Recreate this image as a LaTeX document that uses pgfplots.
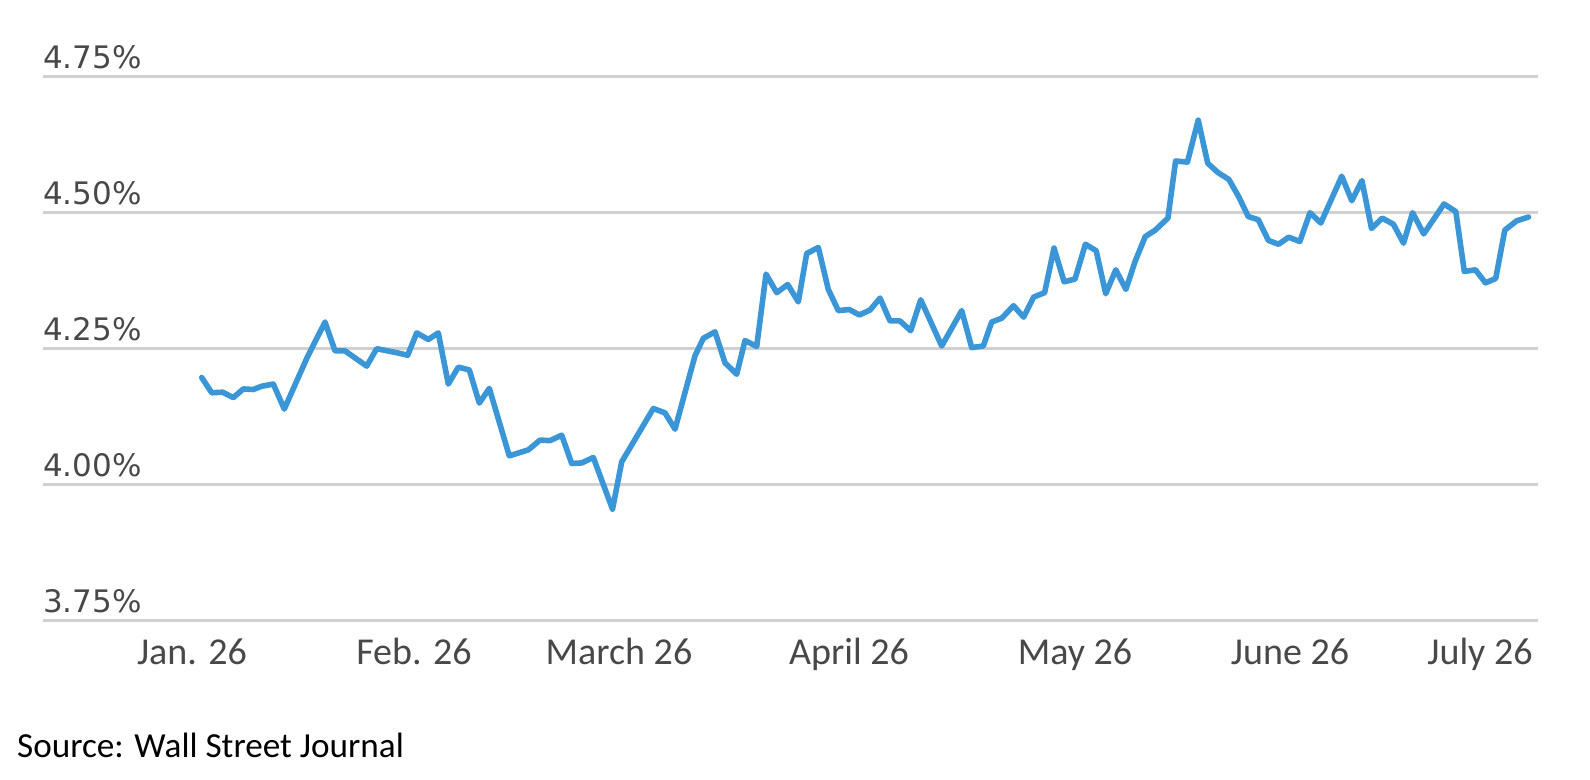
\documentclass[border=0pt]{standalone}
\usepackage{fontspec}
\usepackage{pgfplots}
\pgfplotsset{compat=1.18}
\setmainfont{Carlito}
\newfontfamily\ylabfont{DejaVu Sans}
\newfontfamily\xlabfont{Carlito}
\definecolor{lineblue}{RGB}{59,150,215}
\definecolor{gridgray}{RGB}{208,208,208}
\definecolor{labgray}{RGB}{72,72,72}
\begin{document}
\begin{tikzpicture}
\useasboundingbox (0,0) rectangle (795pt,390pt);
\begin{axis}[
  at={(21.35pt,79.65pt)}, anchor=south west,
  scale only axis,
  width=747.5pt, height=272pt,
  xmin=42.7, xmax=1537.7,
  ymin=3.75, ymax=4.75,
  axis line style={draw=none},
  major tick length=0pt,
  ymajorgrids,
  grid style={line width=1.2pt, color=gridgray},
  ytick={3.75,4.00,4.25,4.50,4.75},
  yticklabels={3.75\%,4.00\%,4.25\%,4.50\%,4.75\%},
  yticklabel style={anchor=base west, inner sep=0pt, yshift=4pt, font=\ylabfont\fontsize{15.5}{18}\selectfont, text=labgray},
  xtick={192,414,619,849,1075,1290,1480},
  xticklabels={Jan. 26,Feb. 26,March 26,April 26,May 26,June 26,July 26},
  xticklabel style={anchor=base, inner sep=0pt, yshift=-22pt, font=\xlabfont\fontsize{19}{22}\selectfont, text=labgray},
  clip=false,
]
\addplot[lineblue, line width=2.8pt, line join=round, line cap=round] coordinates {
(201.7,4.197) (211.7,4.169) (222.7,4.170) (233.3,4.160) (243.3,4.176)
(253.3,4.175) (261.7,4.181) (273.3,4.185) (284.3,4.139) (306.7,4.232)
(325.0,4.299) (335.0,4.246) (345.0,4.246) (366.7,4.218) (376.7,4.250)
(398.3,4.242) (407.7,4.238) (416.7,4.279) (428.3,4.267) (438.3,4.279)
(448.3,4.185) (458.3,4.216) (469.3,4.211) (479.3,4.150) (489.3,4.177)
(509.3,4.053) (528.3,4.064) (540.0,4.082) (550.0,4.081) (561.7,4.091)
(571.7,4.039) (581.7,4.040) (593.3,4.050) (612.5,3.955) (621.7,4.042)
(653.3,4.140) (665.0,4.132) (675.0,4.102) (695.0,4.237) (703.3,4.269)
(715.0,4.281) (725.0,4.224) (736.7,4.203) (745.0,4.265) (756.7,4.254)
(766.0,4.387) (776.7,4.353) (787.7,4.368) (798.3,4.336) (806.7,4.425)
(818.3,4.436) (828.3,4.359) (838.3,4.320) (849.3,4.322) (859.3,4.312)
(870.0,4.321) (880.0,4.343) (890.0,4.301) (900.0,4.301) (910.7,4.283)
(920.7,4.340) (941.7,4.255) (961.7,4.320) (971.7,4.252) (983.3,4.255)
(991.7,4.299) (1001.7,4.306) (1013.5,4.329) (1023.6,4.308) (1033.7,4.345)
(1044.6,4.353) (1054.0,4.435) (1064.1,4.373) (1075.0,4.378) (1085.4,4.442)
(1096.2,4.430) (1105.7,4.351) (1115.8,4.395) (1125.9,4.359) (1135.0,4.410)
(1145.2,4.456) (1155.3,4.468) (1167.9,4.490) (1175.6,4.595) (1187.4,4.593)
(1198.2,4.670) (1207.7,4.591) (1217.8,4.574) (1228.9,4.561) (1239.1,4.528)
(1248.2,4.493) (1258.3,4.487) (1268.4,4.449) (1278.6,4.442) (1288.7,4.455)
(1299.8,4.447) (1310.0,4.500) (1320.8,4.481) (1341.7,4.567) (1351.8,4.522)
(1361.9,4.559) (1371.5,4.471) (1382.2,4.490) (1393.3,4.479) (1403.5,4.444)
(1412.6,4.500) (1423.7,4.461) (1444.0,4.516) (1455.8,4.502) (1464.3,4.392)
(1475.4,4.395) (1485.5,4.371) (1495.7,4.379) (1504.8,4.468) (1516.6,4.485)
(1528.5,4.492)
};
\end{axis}
\node[anchor=base west, inner sep=0pt, font=\fontsize{17.6}{20}\selectfont, text=black] at (8.35pt,11pt) {Source: Wall Street Journal};
\end{tikzpicture}
\end{document}
